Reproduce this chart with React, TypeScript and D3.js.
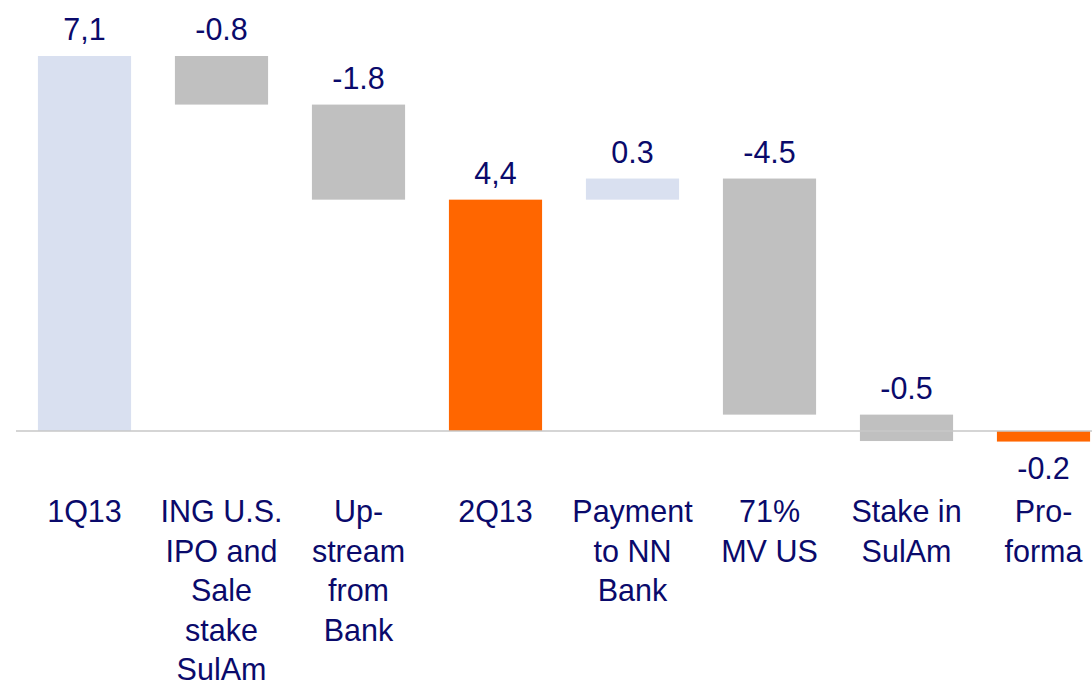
import * as d3 from "d3";

// waterfall data
const categories = ["1Q13", "ING", "Upstream", "2Q13", "Payment", "71% MV US", "Stake", "Pro-forma"];
const categoryLines = [
  ["1Q13"],
  ["ING U.S.", "IPO and", "Sale", "stake", "SulAm"],
  ["Up-", "stream", "from", "Bank"],
  ["2Q13"],
  ["Payment", "to NN", "Bank"],
  ["71%", "MV US"],
  ["Stake in", "SulAm"],
  ["Pro-", "forma"],
];
const kinds = ["total", "delta", "delta", "total", "delta", "delta", "delta", "total"];
const amounts = [7.1, -0.92, -1.8, 4.38, 0.4, -4.47, -0.5, -0.2];
const valueLabels = ["7,1", "-0.8", "-1.8", "4,4", "0.3", "-4.5", "-0.5", "-0.2"];

const W = 1092;
const H = 685;
const navy = "#0a0a6b";
const font = "'Liberation Sans', Arial, sans-serif";

export default function App() {
  const x = d3
    .scaleBand()
    .domain(categories)
    .range([16, 16 + 8 * 137])
    .paddingInner(0.32)
    .paddingOuter(0.16);
  const y = d3.scaleLinear().domain([0, 7.1]).range([431, 56]);

  // running totals for the floating bars
  let running = 0;
  const bars = categories.map((c, i) => {
    let from: number, to: number;
    if (kinds[i] === "total") {
      from = 0;
      to = amounts[i];
    } else {
      from = running;
      to = running + amounts[i];
    }
    running = to;
    const fill =
      kinds[i] === "total"
        ? i === 0
          ? "#d9e0f0"
          : "#ff6600"
        : amounts[i] > 0
        ? "#d9e0f0"
        : "#c0c0c0";
    return { c, i, from, to, fill };
  });

  return (
    <svg
      width={W}
      height={H}
      style={{ position: "absolute", left: 0, top: 0, background: "#fff" }}
      fontFamily={font}
    >
      {bars.map((b) => {
        const top = y(Math.max(b.from, b.to));
        const bottom = y(Math.min(b.from, b.to));
        return (
          <rect
            key={b.c}
            x={x(b.c)}
            y={top}
            width={x.bandwidth()}
            height={bottom - top}
            fill={b.fill}
          />
        );
      })}

      {/* zero line */}
      <line x1={16} x2={W} y1={y(0)} y2={y(0)} stroke="#c8c8c8" strokeWidth={2} opacity={0.75} />

      {/* value labels */}
      {bars.map((b) => {
        const cx = (x(b.c) ?? 0) + x.bandwidth() / 2;
        const below = kinds[b.i] === "total" && amounts[b.i] < 0;
        const yy = below ? y(Math.min(b.from, b.to)) + 37 : y(Math.max(b.from, b.to)) - 16;
        return (
          <text key={b.c} x={cx} y={yy} textAnchor="middle" fontSize={30.5} fill={navy}>
            {valueLabels[b.i]}
          </text>
        );
      })}

      {/* category labels */}
      {categories.map((c, i) => {
        const cx = (x(c) ?? 0) + x.bandwidth() / 2;
        return (
          <text key={c} textAnchor="middle" fontSize={30.5} fill={navy}>
            {categoryLines[i].map((line, k) => (
              <tspan key={k} x={cx} y={522 + k * 39.5}>
                {line}
              </tspan>
            ))}
          </text>
        );
      })}
    </svg>
  );
}
